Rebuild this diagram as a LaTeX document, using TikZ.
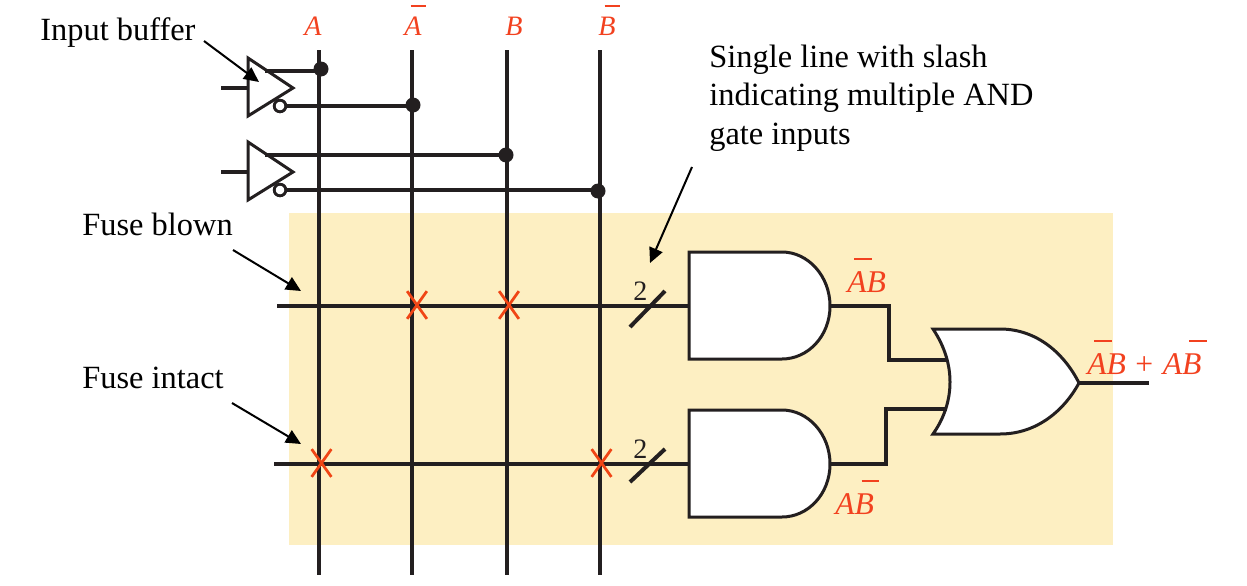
\documentclass[tikz,border=0pt]{standalone}
\usepackage{fontspec}
\setmainfont{Liberation Serif}
\usetikzlibrary{arrows.meta, shapes.misc}
\definecolor{wirecol}{HTML}{231F20}
\definecolor{labelred}{HTML}{F2411F}
\definecolor{fusecol}{HTML}{F04515}
\definecolor{panelcol}{HTML}{FDEFC2}

% letter with a bar set high and a little to the right
\newcommand{\barvar}[1]{\leavevmode\rlap{\kern0.22em\raisebox{1.0em}{\rule{0.56em}{0.06em}}}#1}

\begin{document}
\begin{tikzpicture}[
  x=0.02cm,
  y=-0.02cm,
  wire/.style={draw=wirecol, line width=0.08cm},
  gate/.style={draw=wirecol, line width=0.06cm, fill=white, line join=miter},
  dot/.style={circle, fill=wirecol, inner sep=0pt, minimum size=0.3cm},
  bubble/.style={circle, draw=wirecol, line width=0.055cm, fill=white, inner sep=0pt, minimum size=0.23cm},
  fuse/.style={cross out, draw=fusecol, line width=0.055cm, inner sep=0pt, minimum width=0.34cm, minimum height=0.5cm},
  note/.style={anchor=base west, inner sep=0pt, font=\fontsize{18.45}{21.8}\selectfont, text=black},
  signal/.style={anchor=base west, inner sep=0pt, font=\fontsize{16}{19}\selectfont\itshape, text=labelred},
  term/.style={signal, font=\fontsize{18}{21}\selectfont\itshape},
  count/.style={anchor=base west, inner sep=0pt, font=\fontsize{16}{19}\selectfont, text=wirecol},
  pointer/.style={-{Triangle[length=0.3cm, width=0.28cm]}, line width=0.04cm, draw=black},
  buffer/.pic={
    \draw[gate] (0,-30) -- (45,0) -- (0,28) -- cycle;
    \node[bubble] (-bub) at (32,18) {};
    \coordinate (-in) at (0,0);
    \coordinate (-top) at (17,-17);
  },
  andgate/.pic={
    \draw[gate] (0,-54) -- (93,-54) .. controls (119,-54) and (141,-30) .. (141,0)
      .. controls (141,30) and (119,53) .. (93,53) -- (0,53) -- cycle;
    \coordinate (-in) at (0,0);
    \coordinate (-out) at (141,0);
  },
  orgate/.pic={
    \draw[gate] (0,-53) -- (67,-53) .. controls (105,-53) and (132,-27) .. (146,1)
      .. controls (132,27) and (105,52) .. (67,52) -- (0,52)
      .. controls (12,35) and (17,17) .. (17,0) .. controls (17,-17) and (12,-35) .. (0,-53) -- cycle;
    \coordinate (-in1) at (14,-22);
    \coordinate (-in2) at (14,27);
    \coordinate (-out) at (146,1);
  }
]
  \useasboundingbox (0,0) rectangle (1247,585);

  % Fond de la matrice
  \fill[panelcol] (289,213) rectangle (1113,545);

  % Colonnes
  \foreach \name/\xpos in {a/319, nota/412, b/507, notb/600} {
    \coordinate (\name top) at (\xpos,50);
    \coordinate (\name bot) at (\xpos,575);
    \draw[wire] (\name top) -- (\name bot);
  }

  % Portes
  \pic (and1) at (689,306) {andgate};
  \pic (and2) at (689,464) {andgate};
  \pic (or1) at (933,382) {orgate};
  \pic (buf1) at (248,88) {buffer};
  \pic (buf2) at (248,172) {buffer};

  % Points de connexion
  \node[dot] (dota) at (321,69) {};
  \node[dot] (dotnota) at (413,105) {};
  \node[dot] (dotb) at (506,155) {};
  \node[dot] (dotnotb) at (598,191) {};

  % Entrees des buffers
  \coordinate (ina) at (221,88);
  \coordinate (inb) at (221,172);
  \draw[wire] (ina) -- (buf1-in);
  \draw[wire] (inb) -- (buf2-in);

  % Sorties des buffers
  \draw[wire] (buf1-top) -- (buf1-top -| dota);
  \draw[wire] (buf1-bub) -- (buf1-bub -| dotnota);
  \draw[wire] (buf2-top) -- (buf2-top -| dotb);
  \draw[wire] (buf2-bub) -- (buf2-bub -| dotnotb);
  \node[bubble] (bub1) at (buf1-bub) {};
  \node[bubble] (bub2) at (buf2-bub) {};

  % Lignes de produit
  \coordinate (line1) at (277,306);
  \coordinate (line2) at (274,464);
  \draw[wire] (line1) -- (and1-in);
  \draw[wire] (line2) -- (and2-in);

  % Sorties des portes
  \coordinate (orend) at (1149,383);
  \draw[wire] (and1-out) -- ++(59,0) |- (or1-in1);
  \draw[wire] (and2-out) -- ++(56,0) |- (or1-in2);
  \draw[wire] (or1-out) -- (orend);

  % Traits obliques
  \coordinate (slash1) at (648,306);
  \coordinate (slash2) at (648,464);
  \draw[wire] (slash1) ++(-18,21) -- ++(35,-36);
  \draw[wire] (slash2) ++(-18,18) -- ++(35,-33);
  \node[count] (two1) at (633,300) {2};
  \node[count] (two2) at (633,458) {2};

  % Fusibles
  \node[fuse] (fuse1) at (417,305) {};
  \node[fuse] (fuse2) at (509,305) {};
  \node[fuse] (fuse3) at (321.5,463) {};
  \node[fuse] (fuse4) at (601.5,463) {};

  % Noms des signaux
  \node[signal] (siga) at (304,35) {A};
  \node[signal] (signota) at (404,35) {\barvar{A}};
  \node[signal] (sigb) at (505,35) {B};
  \node[signal] (signotb) at (598,35) {\barvar{B}};
  \node[term] (term1) at (847,292) {\barvar{A}B};
  \node[term] (term2) at (835,514) {A\barvar{B}};
  \node[term] (sumout) at (1087,374) {\barvar{A}B\kern0.3em{\upshape+}\kern0.3em A\barvar{B}};

  % Legendes
  \node[note] (inputnote) at (40,40) {Input buffer};
  \node[note] (blownnote) at (82,235) {Fuse blown};
  \node[note] (intactnote) at (82,388) {Fuse intact};
  \node[note, anchor=west, align=left] (slashnote) at (709,98) {Single line with slash\\indicating multiple AND\\gate inputs};

  % Fleches des legendes
  \coordinate (inputtail) at (204,41);
  \coordinate (inputtip) at (259,82);
  \coordinate (blowntail) at (233,250);
  \coordinate (blowntip) at (301,291);
  \coordinate (intacttail) at (232,403);
  \coordinate (intacttip) at (301,444);
  \coordinate (slashtail) at (692,167);
  \coordinate (slashtip) at (650,263);
  \draw[pointer] (inputtail) -- (inputtip);
  \draw[pointer] (blowntail) -- (blowntip);
  \draw[pointer] (intacttail) -- (intacttip);
  \draw[pointer] (slashtail) -- (slashtip);

\end{tikzpicture}
\end{document}
